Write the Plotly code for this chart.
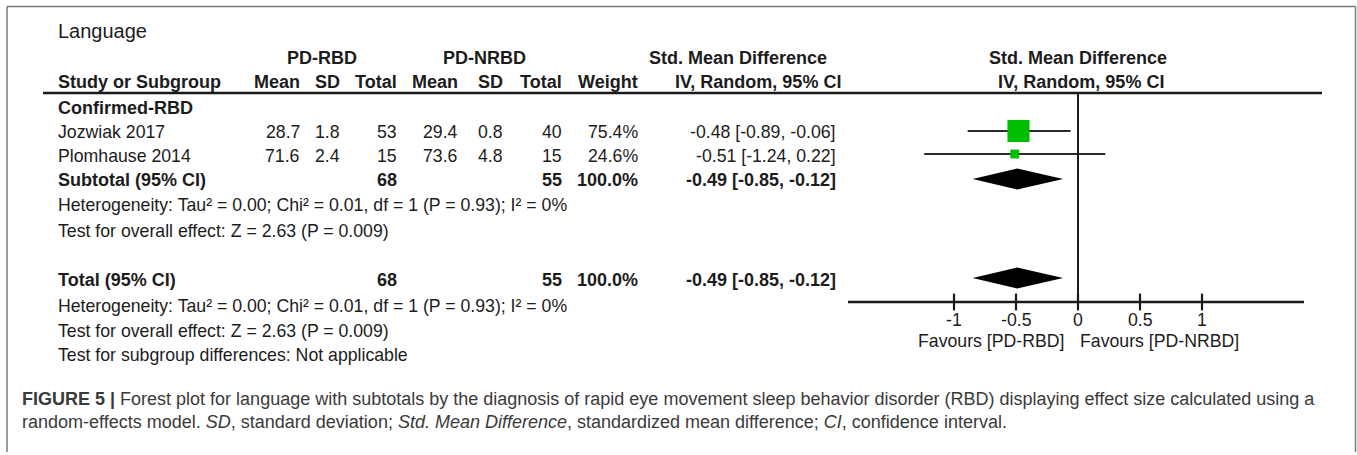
import plotly.graph_objects as go

# ---------------- data ----------------
studies = ["Jozwiak 2017", "Plomhause 2014"]
rbd_mean = ["28.7", "71.6"]
rbd_sd = ["1.8", "2.4"]
rbd_total = [53, 15]
nrbd_mean = ["29.4", "73.6"]
nrbd_sd = ["0.8", "4.8"]
nrbd_total = [40, 15]
weights = [75.4, 24.6]
smd = [-0.48, -0.51]
ci_lo = [-0.89, -1.24]
ci_hi = [-0.06, 0.22]

subgroup_name = "Confirmed-RBD"
sub_total_rbd = 68
sub_total_nrbd = 55
sub_smd, sub_lo, sub_hi = -0.49, -0.85, -0.12
tot_smd, tot_lo, tot_hi = -0.49, -0.85, -0.12

het_text = "Heterogeneity: Tau² = 0.00; Chi² = 0.01, df = 1 (P = 0.93); I² = 0%"
effect_text = "Test for overall effect: Z = 2.63 (P = 0.009)"
subgroup_diff_text = "Test for subgroup differences: Not applicable"

tick_vals = [-1, -0.5, 0, 0.5, 1]
tick_labels = ["-1", "-0.5", "0", "0.5", "1"]
favours_left = "Favours [PD-RBD]"
favours_right = "Favours [PD-NRBD]"

caption_1 = ("<b>FIGURE 5 |</b> Forest plot for language with subtotals by the diagnosis of rapid eye "
             "movement sleep behavior disorder (RBD) displaying effect size calculated using a")
caption_2 = ("random-effects model. <i>SD</i>, standard deviation; <i>Std. Mean Difference</i>, "
             "standardized mean difference; <i>CI</i>, confidence interval.")

# ---------------- layout constants (pixels) ----------------
W, H = 1357, 455
FONT = "Liberation Sans, Arial, sans-serif"
FS = 17.7
FSB = 18
TXT = "#1c1c1c"

ZERO_PX = 1078          # pixel of x = 0 on the forest axis
UNIT_PX = 124           # pixels per unit of SMD
AX_L, AX_R = 848, 1304  # forest axis extent in pixels
AXIS_Y = 302
HEADER_LINE_Y = 93

ROW_Y = {
    "title": 31, "group": 58, "cols": 82,
    "sub": 108, "s0": 132, "s1": 156, "subtotal": 180,
    "het1": 205, "eff1": 231, "total": 280,
    "het2": 306, "eff2": 331, "sgd": 355,
    "ticks": 320, "fav": 341, "cap1": 399, "cap2": 422,
}
MARK_Y = {"s0": 131, "s1": 154, "subtotal": 179, "total": 278}

# column right edges (pixels)
COL = {"m1": 302, "sd1": 342, "t1": 399, "m2": 460, "sd2": 505, "t2": 564,
       "w": 640, "ci": 838}
LEFT_X = 56
PAD = 1


def px(x):
    return x / W


def py(y):
    return 1 - y / H


fig = go.Figure()
ann = []


def text(x, y, s, anchor="left", bold=False, size=None, color=TXT, xref="paper"):
    if size is None:
        size = FSB if bold else FS
    ann.append(dict(
        x=px(x) if xref == "paper" else x, y=py(y), xref=xref, yref="paper",
        text=f"<b>{s}</b>" if bold else s, showarrow=False,
        xanchor=anchor, yanchor="middle",
        font=dict(family=FONT, size=size, color=color)))


# headers
text(LEFT_X, ROW_Y["title"], "Language", size=20)
text(322, ROW_Y["group"], "PD-RBD", "center", True)
text(484, ROW_Y["group"], "PD-NRBD", "center", True)
text(738, ROW_Y["group"], "Std. Mean Difference", "center", True)
text(1078, ROW_Y["group"], "Std. Mean Difference", "center", True)
text(LEFT_X, ROW_Y["cols"], "Study or Subgroup", bold=True)
for key, lab in [("m1", "Mean"), ("sd1", "SD"), ("t1", "Total"), ("m2", "Mean"),
                 ("sd2", "SD"), ("t2", "Total"), ("w", "Weight")]:
    text(COL[key], ROW_Y["cols"], lab, "right", True)
text(758, ROW_Y["cols"], "IV, Random, 95% CI", "center", True)
text(1081, ROW_Y["cols"], "IV, Random, 95% CI", "center", True)

# subgroup
text(LEFT_X, ROW_Y["sub"], subgroup_name, bold=True)
for i, s in enumerate(studies):
    r = ROW_Y[f"s{i}"]
    text(LEFT_X, r, s)
    text(COL["m1"], r, rbd_mean[i], "right")
    text(COL["sd1"], r, rbd_sd[i], "right")
    text(COL["t1"], r, str(rbd_total[i]), "right")
    text(COL["m2"], r, nrbd_mean[i], "right")
    text(COL["sd2"], r, nrbd_sd[i], "right")
    text(COL["t2"], r, str(nrbd_total[i]), "right")
    text(COL["w"], r, f"{weights[i]:.1f}%", "right")
    text(COL["ci"], r, f"{smd[i]:.2f} [{ci_lo[i]:.2f}, {ci_hi[i]:.2f}]", "right")

for row, label, tr, tn, e, lo, hi in [
        ("subtotal", "Subtotal (95% CI)", sub_total_rbd, sub_total_nrbd, sub_smd, sub_lo, sub_hi),
        ("total", "Total (95% CI)", sub_total_rbd, sub_total_nrbd, tot_smd, tot_lo, tot_hi)]:
    r = ROW_Y[row]
    text(LEFT_X, r, label, bold=True)
    text(COL["t1"], r, str(tr), "right", True)
    text(COL["t2"], r, str(tn), "right", True)
    text(COL["w"], r, f"{sum(weights):.1f}%", "right", True)
    text(COL["ci"], r, f"{e:.2f} [{lo:.2f}, {hi:.2f}]", "right", True)

text(LEFT_X, ROW_Y["het1"], het_text)
text(LEFT_X, ROW_Y["eff1"], effect_text)
text(LEFT_X, ROW_Y["het2"], het_text)
text(LEFT_X, ROW_Y["eff2"], effect_text)
text(LEFT_X, ROW_Y["sgd"], subgroup_diff_text)

# tick labels / favours
for v, lab in zip(tick_vals, tick_labels):
    text(v, ROW_Y["ticks"], lab, "center", xref="x")
text(1066, ROW_Y["fav"], favours_left, "right")
text(1078, ROW_Y["fav"], favours_right, "left")

# caption
text(20, ROW_Y["cap1"], caption_1, size=18, color="#3a3a3a")
text(20, ROW_Y["cap2"], caption_2, size=18, color="#3a3a3a")

# ---------------- forest marks ----------------
mark_y = [H - MARK_Y[f"s{i}"] for i in range(len(studies))]
sizes = [2.5 + 0.26 * w for w in weights]
fig.add_trace(go.Scatter(
    x=smd, y=mark_y, mode="markers",
    marker=dict(symbol="square", size=sizes, color="#00bf00", opacity=1, line=dict(width=0)),
    error_x=dict(type="data", symmetric=False,
                 array=[h - e for h, e in zip(ci_hi, smd)],
                 arrayminus=[e - l for e, l in zip(smd, ci_lo)],
                 thickness=2.2, width=0, color="#2a2a2a"),
    showlegend=False, hoverinfo="skip"))

DH = 10.5
for row, e, lo, hi in [("subtotal", sub_smd, sub_lo, sub_hi), ("total", tot_smd, tot_lo, tot_hi)]:
    yc = H - MARK_Y[row]
    fig.add_trace(go.Scatter(
        x=[lo, e, hi, e, lo], y=[yc, yc + DH, yc, yc - DH, yc],
        mode="lines", fill="toself", fillcolor="black", line=dict(width=0, color="black"),
        showlegend=False, hoverinfo="skip"))

# ticks
fig.add_trace(go.Scatter(
    x=tick_vals, y=[H - AXIS_Y] * len(tick_vals), mode="markers",
    marker=dict(symbol="line-ns", size=12, line=dict(width=2.2, color="#1a1a1a")),
    showlegend=False, hoverinfo="skip", cliponaxis=False))

shapes = [
    # forest axis
    dict(type="line", xref="paper", yref="paper", x0=px(AX_L), x1=px(AX_R),
         y0=py(AXIS_Y), y1=py(AXIS_Y), line=dict(color="#1a1a1a", width=2.5)),
    # zero line
    dict(type="line", xref="x", yref="paper", x0=0, x1=0,
         y0=py(HEADER_LINE_Y), y1=py(AXIS_Y), line=dict(color="#1a1a1a", width=2)),
    # header line
    dict(type="line", xref="paper", yref="paper", x0=px(43), x1=px(1322),
         y0=py(HEADER_LINE_Y), y1=py(HEADER_LINE_Y), line=dict(color="#1a1a1a", width=2.6)),
    # frame
    dict(type="line", xref="paper", yref="paper", x0=px(7), x1=px(1355.5),
         y0=py(6.5), y1=py(6.5), line=dict(color="#7a7a7a", width=1.5)),
    dict(type="line", xref="paper", yref="paper", x0=px(7), x1=px(7),
         y0=py(6.5), y1=py(452), line=dict(color="#7a7a7a", width=1.5)),
    dict(type="line", xref="paper", yref="paper", x0=px(1355.5), x1=px(1355.5),
         y0=py(6.5), y1=py(452), line=dict(color="#7a7a7a", width=1.5)),
]

r0 = (AX_L - ZERO_PX) / UNIT_PX
r1 = (AX_R - ZERO_PX) / UNIT_PX
fig.update_layout(
    width=W, height=H, margin=dict(l=0, r=0, t=0, b=0),
    paper_bgcolor="white", plot_bgcolor="rgba(0,0,0,0)",
    xaxis=dict(domain=[px(AX_L), px(AX_R)], range=[r0, r1], visible=False, fixedrange=True),
    yaxis=dict(domain=[0, 1], range=[0, H], visible=False, fixedrange=True),
    annotations=ann, shapes=shapes, showlegend=False,
)

fig.write_html("out.html")
